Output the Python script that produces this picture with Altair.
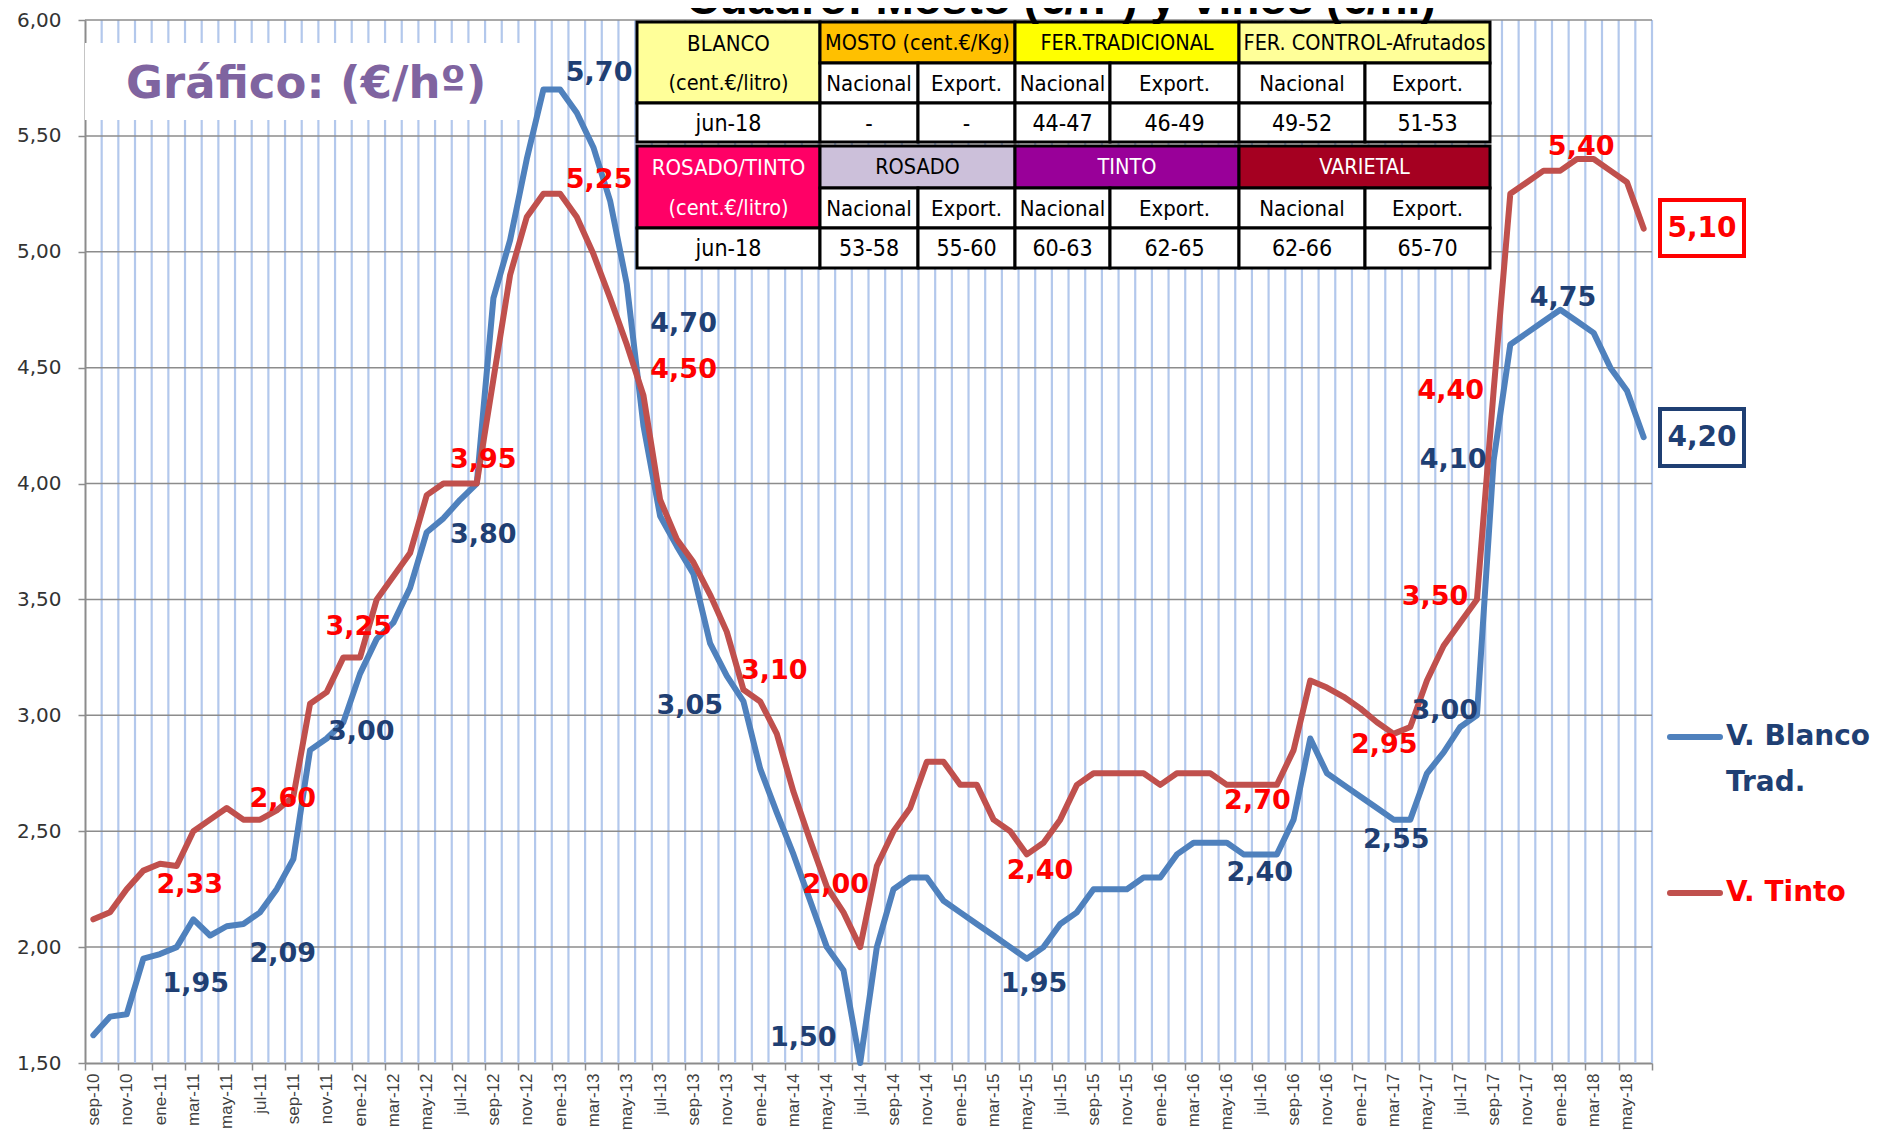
import json
import pandas as pd
import altair as alt

# ---------------- data ----------------
MONTH_NAMES = ["ene", "feb", "mar", "abr", "may", "jun", "jul", "ago", "sep", "oct", "nov", "dic"]
months = []
_y, _m = 2010, 9
while (_y, _m) <= (2018, 6):
    months.append(f"{MONTH_NAMES[_m - 1]}-{_y % 100:02d}")
    _m += 1
    if _m > 12:
        _m, _y = 1, _y + 1

blanco = [1.62, 1.70, 1.71, 1.95, 1.97, 2.00, 2.12, 2.05, 2.09, 2.10,
          2.15, 2.25, 2.38, 2.85, 2.90, 2.97, 3.18, 3.33, 3.40, 3.55,
          3.79, 3.85, 3.93, 4.00, 4.80, 5.05, 5.40, 5.70, 5.70, 5.60,
          5.45, 5.22, 4.86, 4.25, 3.86, 3.73, 3.61, 3.31, 3.17, 3.06,
          2.77, 2.58, 2.40, 2.20, 2.00, 1.90, 1.50, 2.00, 2.25, 2.30,
          2.30, 2.20, 2.15, 2.10, 2.05, 2.00, 1.95, 2.00, 2.10, 2.15,
          2.25, 2.25, 2.25, 2.30, 2.30, 2.40, 2.45, 2.45, 2.45, 2.40,
          2.40, 2.40, 2.55, 2.90, 2.75, 2.70, 2.65, 2.60, 2.55, 2.55,
          2.75, 2.84, 2.95, 3.00, 4.10, 4.60, 4.65, 4.70, 4.75, 4.70,
          4.65, 4.50, 4.40, 4.20]

tinto = [2.12, 2.15, 2.25, 2.33, 2.36, 2.35, 2.50, 2.55, 2.60, 2.55,
         2.55, 2.59, 2.65, 3.05, 3.10, 3.25, 3.25, 3.50, 3.60, 3.70,
         3.95, 4.00, 4.00, 4.00, 4.45, 4.90, 5.15, 5.25, 5.25, 5.15,
         4.99, 4.80, 4.60, 4.38, 3.93, 3.76, 3.66, 3.52, 3.36, 3.11,
         3.06, 2.92, 2.67, 2.46, 2.26, 2.15, 2.00, 2.35, 2.50, 2.60,
         2.80, 2.80, 2.70, 2.70, 2.55, 2.50, 2.40, 2.45, 2.55, 2.70,
         2.75, 2.75, 2.75, 2.75, 2.70, 2.75, 2.75, 2.75, 2.70, 2.70,
         2.70, 2.70, 2.85, 3.15, 3.12, 3.08, 3.03, 2.97, 2.92, 2.95,
         3.15, 3.30, 3.40, 3.50, 4.40, 5.25, 5.30, 5.35, 5.35, 5.40,
         5.40, 5.35, 5.30, 5.10]

series_names = ["V. Blanco Trad.", "V. Tinto"]
y_ticks = [1.5, 2.0, 2.5, 3.0, 3.5, 4.0, 4.5, 5.0, 5.5, 6.0]

# point labels: text, month position, value position
blue_label_text = ["1,95", "2,09", "3,00", "3,80", "5,70", "4,70", "3,05", "1,50",
                   "1,95", "2,40", "2,55", "3,00", "4,10", "4,75"]
blue_label_x = [6.14, 11.36, 16.07, 23.39, 30.34, 35.41, 35.78, 42.59,
                56.43, 69.97, 78.16, 81.07, 81.57, 88.16]
blue_label_y = [1.84, 1.97, 2.93, 3.78, 5.77, 4.69, 3.04, 1.61,
                1.84, 2.32, 2.46, 3.02, 4.10, 4.80]
red_label_text = ["2,33", "2,60", "3,25", "3,95", "5,25", "4,50", "3,10", "2,00",
                  "2,40", "2,70", "2,95", "3,50", "4,40", "5,40"]
red_label_x = [5.78, 11.36, 15.92, 23.39, 30.34, 35.41, 40.85, 44.54,
               56.79, 69.83, 77.44, 80.48, 81.43, 89.25]
red_label_y = [2.27, 2.64, 3.38, 4.10, 5.31, 4.49, 3.19, 2.27,
               2.33, 2.63, 2.87, 3.51, 4.40, 5.45]
last_text = ["5,10", "4,20"]

# table contents
tbl_top_head = ["BLANCO", "MOSTO (cent.€/Kg)", "FER.TRADICIONAL", "FER. CONTROL-Afrutados"]
tbl_top_vals = ["jun-18", "-", "-", "44-47", "46-49", "49-52", "51-53"]
tbl_bot_head = ["ROSADO/TINTO", "ROSADO", "TINTO", "VARIETAL"]
tbl_bot_vals = ["jun-18", "53-58", "55-60", "60-63", "62-65", "62-66", "65-70"]
tbl_unit = "(cent.€/litro)"
tbl_sub = ["Nacional", "Export."]

# ---------------- layout ----------------
PAD_L, PAD_T = 77, 12
W, H = 1567, 1043
CANVAS_W, CANVAS_H = 1876, 1124
PAD_R = CANVAS_W - PAD_L - W
PAD_B = CANVAS_H - PAD_T - H
L, T = 8 + PAD_L, 8 + PAD_T
XMIN, XMAX = -0.5, len(months) - 0.5
YMIN, YMAX = 1.5, 6.0
CW = W / len(months)


def X(px):
    return XMIN + (px - L) / W * (XMAX - XMIN)


def Y(py):
    return YMAX - (py - T) / H * (YMAX - YMIN)


xs = alt.Scale(domain=[XMIN, XMAX], nice=False, zero=False)
ys = alt.Scale(domain=[YMIN, YMAX], nice=False, zero=False)

BLUE, RED = "#4F81BD", "#C0504D"
NAVY, LRED = "#1F3F73", "#FF0000"
LBL_FONT = "DejaVu Sans"
TABLE_FONT = "Liberation Sans Narrow, DejaVu Sans Condensed, Arial Narrow, sans-serif"


def xenc(f, **kw):
    return alt.X(f, scale=xs, axis=None, **kw)


def yenc(f, **kw):
    return alt.Y(f, scale=ys, axis=None, **kw)


months_js = json.dumps(months)
x_axis = alt.Axis(values=[XMIN + 2 * k for k in range(len(months) // 2 + 1)],
                  labelExpr=f"{months_js}[round(datum.value + 0.5)] || ''",
                  labelAngle=-90, labelOffset=CW / 2, title=None, grid=False,
                  domainColor="#8C8C8C", domainWidth=2, tickColor="#8C8C8C", tickWidth=1.5,
                  tickSize=7, labelPadding=3, labelFont="Liberation Sans", labelFontSize=17,
                  labelColor="#404040", labelBound=False, labelOverlap=False, orient="bottom")
y_axis = alt.Axis(values=y_ticks, labelExpr="replace(format(datum.value, '.2f'), '.', ',')",
                  title=None, grid=False, domainColor="#8C8C8C", domainWidth=2,
                  tickColor="#8C8C8C", tickWidth=1.5, tickSize=7, labelPadding=17,
                  labelFont=LBL_FONT, labelFontSize=20, labelColor="#333333",
                  labelOverlap=False, labelBound=False, orient="left")

# vertical month gridlines (first layer: carries the x axis)
vgrid = alt.Chart(pd.DataFrame({"b": [i + 0.5 for i in range(len(months))]})).mark_rule(
    color="#B3C8EC", strokeWidth=2.2).encode(x=alt.X("b:Q", scale=xs, axis=x_axis))

# white background behind "Gráfico" (first layer with y: carries the y axis)
gbox = alt.Chart(pd.DataFrame({"x": [X(L)], "x2": [X(522)], "y": [Y(43)], "y2": [Y(120)]})).mark_rect(
    color="white").encode(x=xenc("x:Q"), x2="x2:Q", y=alt.Y("y:Q", scale=ys, axis=y_axis), y2="y2:Q")

# horizontal gridlines
hgrid = alt.Chart(pd.DataFrame({"v": y_ticks[1:]})).mark_rule(
    color="#8C8C8C", strokeWidth=1.5).encode(y=yenc("v:Q"))

# series
rows = []
for i, mname in enumerate(months):
    rows.append({"i": i, "v": blanco[i], "s": series_names[0]})
    rows.append({"i": i, "v": tinto[i], "s": series_names[1]})
df = pd.DataFrame(rows)

line = alt.Chart(df).mark_line(strokeWidth=6, strokeJoin="round", strokeCap="round").encode(
    x=xenc("i:Q"),
    y=yenc("v:Q"),
    color=alt.Color("s:N", scale=alt.Scale(domain=series_names, range=[BLUE, RED]), legend=None),
)

# point labels
lab_df = pd.DataFrame({
    "x": blue_label_x + red_label_x,
    "y": blue_label_y + red_label_y,
    "t": blue_label_text + red_label_text,
    "c": [NAVY] * len(blue_label_text) + [LRED] * len(red_label_text),
})
labels = alt.Chart(lab_df).mark_text(font=LBL_FONT, fontWeight="bold", fontSize=27,
                                     align="center", baseline="middle").encode(
    x=xenc("x:Q"), y=yenc("y:Q"), text="t:N", color=alt.Color("c:N", scale=None))

# boxed last values
box_df = pd.DataFrame({
    "x": [X(1660)] * 2, "x2": [X(1744)] * 2,
    "y": [Y(200), Y(409)], "y2": [Y(256), Y(466)],
    "c": [LRED, NAVY], "t": last_text,
    "xm": [X(1702)] * 2, "ym": [Y(229), Y(438)],
})
boxes = alt.Chart(box_df).mark_rect(fill="white", strokeWidth=4).encode(
    x=xenc("x:Q"), x2="x2:Q", y=yenc("y:Q"), y2="y2:Q", stroke=alt.Stroke("c:N", scale=None))
box_text = alt.Chart(box_df).mark_text(font=LBL_FONT, fontWeight="bold", fontSize=28,
                                       align="center", baseline="middle").encode(
    x=xenc("xm:Q"), y=yenc("ym:Q"), text="t:N", color=alt.Color("c:N", scale=None))

# table
COLS = [637, 820, 918, 1015, 1110, 1239, 1365, 1490]
BLOCKS = [
    {"rows": [22, 63, 103, 142], "head": tbl_top_head, "vals": tbl_top_vals,
     "fills": ["#FFFF99", "#FFC000", "#FFFF00", "#FFFF99"],
     "tcol": ["black", "black", "black", "black"]},
    {"rows": [146, 188, 228, 268], "head": tbl_bot_head, "vals": tbl_bot_vals,
     "fills": ["#FF0066", "#CCC0DA", "#990099", "#A50021"],
     "tcol": ["white", "black", "white", "white"]},
]
cells, texts = [], []


def add_cell(x0, x1, y0, y1, fill):
    cells.append({"x": X(x0), "x2": X(x1), "y": Y(y0), "y2": Y(y1), "f": fill})


def add_text(x0, x1, y0, y1, t, c, s):
    texts.append({"x": X((x0 + x1) / 2), "y": Y((y0 + y1) / 2 + 1), "t": t, "c": c, "s": s})


for b in BLOCKS:
    r = b["rows"]
    add_cell(COLS[0], COLS[1], r[0], r[2], b["fills"][0])
    add_text(COLS[0], COLS[1], r[0], r[1], b["head"][0], b["tcol"][0], 22)
    add_text(COLS[0], COLS[1], r[1], r[2], tbl_unit, b["tcol"][0], 21.5)
    for g in range(3):
        add_cell(COLS[1 + 2 * g], COLS[3 + 2 * g], r[0], r[1], b["fills"][g + 1])
        add_text(COLS[1 + 2 * g], COLS[3 + 2 * g], r[0], r[1], b["head"][g + 1], b["tcol"][g + 1], 21.5)
    for c in range(1, 7):
        add_cell(COLS[c], COLS[c + 1], r[1], r[2], "white")
        add_text(COLS[c], COLS[c + 1], r[1], r[2], tbl_sub[(c - 1) % 2], "black", 22)
    for c in range(7):
        add_cell(COLS[c], COLS[c + 1], r[2], r[3], "white")
        add_text(COLS[c], COLS[c + 1], r[2], r[3], b["vals"][c], "black", 23)

table_rects = alt.Chart(pd.DataFrame(cells)).mark_rect(stroke="black", strokeWidth=3).encode(
    x=xenc("x:Q"), x2="x2:Q", y=yenc("y:Q"), y2="y2:Q", fill=alt.Fill("f:N", scale=None))
table_text = alt.Chart(pd.DataFrame(texts)).mark_text(font=TABLE_FONT,
                                                      align="center", baseline="middle").encode(
    x=xenc("x:Q"), y=yenc("y:Q"), text="t:N", color=alt.Color("c:N", scale=None),
    size=alt.Size("s:Q", scale=None))

# legend
leg_rules = alt.Chart(pd.DataFrame({
    "x": [X(1670)] * 2, "x2": [X(1720)] * 2, "y": [Y(737), Y(893)], "c": [BLUE, RED]})).mark_rule(
    strokeWidth=6, strokeCap="round").encode(
    x=xenc("x:Q"), x2="x2:Q", y=yenc("y:Q"), color=alt.Color("c:N", scale=None))
leg_text = alt.Chart(pd.DataFrame({
    "x": [X(1726)] * 3, "y": [Y(737), Y(783), Y(893)],
    "t": ["V. Blanco", "Trad.", series_names[1]], "c": [NAVY, NAVY, LRED]})).mark_text(
    font=LBL_FONT, fontWeight="bold", fontSize=28, align="left", baseline="middle").encode(
    x=xenc("x:Q"), y=yenc("y:Q"), text="t:N", color=alt.Color("c:N", scale=None))

# titles
title = alt.Chart(pd.DataFrame({"x": [X(1061)], "y": [Y(14)], "t": ["Cuadro: Mosto (€/hº) y Vinos (€/hl)"]})).mark_text(
    font="Liberation Sans", fontWeight="bold", fontSize=46, align="center", baseline="alphabetic",
    color="black").encode(x=xenc("x:Q"), y=yenc("y:Q"), text="t:N")
grafico = alt.Chart(pd.DataFrame({"x": [X(126)], "y": [Y(98)], "t": ["Gráfico: (€/hº)"]})).mark_text(
    font=LBL_FONT, fontWeight="bold", fontSize=45, align="left", baseline="alphabetic",
    color="#7F64A0").encode(x=xenc("x:Q"), y=yenc("y:Q"), text="t:N")

chart = alt.layer(
    vgrid, gbox, hgrid, line, labels, boxes, box_text, table_rects, table_text,
    leg_rules, leg_text, title, grafico,
).resolve_axis(x="independent", y="independent").properties(
    width=W, height=H,
    autosize=alt.AutoSizeParams(type="none"),
    padding={"left": PAD_L, "top": PAD_T, "right": PAD_R, "bottom": PAD_B},
    background="white",
).configure_view(stroke=None)

chart.save("out.html", embed_options={"renderer": "svg", "actions": False})
